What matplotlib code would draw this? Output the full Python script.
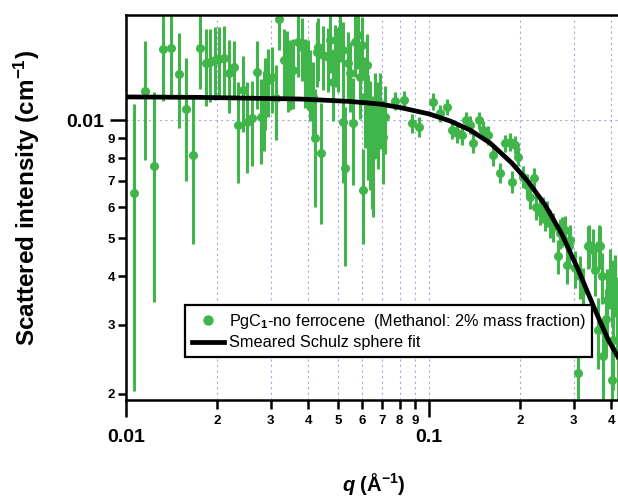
import math
import matplotlib
matplotlib.use("Agg")
import matplotlib.pyplot as plt
from matplotlib.lines import Line2D
from matplotlib.ticker import LogLocator, FuncFormatter

plt.rcParams['font.family'] = ['Liberation Sans', 'DejaVu Sans']
plt.rcParams['font.weight'] = 'bold'
plt.rcParams['mathtext.fontset'] = 'custom'
plt.rcParams['mathtext.rm'] = 'Liberation Sans'
plt.rcParams['mathtext.bf'] = 'Liberation Sans:bold'
plt.rcParams['mathtext.it'] = 'Liberation Sans:italic'
plt.rcParams['mathtext.bfit'] = 'Liberation Sans:italic:bold'

# measured data: q (1/A), intensity (1/cm), error (1/cm)
q = [0.01065, 0.01152, 0.01234, 0.01322, 0.01408, 0.01496, 0.0158, 0.0167, 0.0175, 0.0183,
     0.0189, 0.0197, 0.0203, 0.0211, 0.0218, 0.0228, 0.0235, 0.0244, 0.0250, 0.0260,
     0.0270, 0.0280, 0.0286, 0.0288, 0.0295, 0.0303, 0.0313, 0.0321, 0.0331, 0.0339,
     0.0343, 0.0348, 0.0357, 0.0369, 0.0380, 0.0390, 0.0400, 0.0405, 0.0415, 0.0421,
     0.0426, 0.0431, 0.0440, 0.0448, 0.0465, 0.0471, 0.0483, 0.0490, 0.0502, 0.0509,
     0.0521, 0.0521, 0.0528, 0.0542, 0.0549, 0.0563, 0.0570, 0.0584, 0.0592, 0.0600,
     0.0607, 0.0615, 0.0623, 0.0631, 0.0639, 0.0647, 0.0655, 0.0663, 0.0680, 0.0689,
     0.0707, 0.0716, 0.0772, 0.0827, 0.0877, 0.0929, 0.1033, 0.1087, 0.1144, 0.1194,
     0.1235, 0.1282, 0.1322, 0.1365, 0.1400, 0.1462, 0.1511, 0.1570, 0.1623, 0.1715,
     0.1782, 0.1851, 0.1875, 0.1922, 0.1971, 0.2038, 0.2101, 0.2154, 0.2223, 0.2262,
     0.2325, 0.2384, 0.2415, 0.2446, 0.2508, 0.2572, 0.2671, 0.2706, 0.2741, 0.2810,
     0.2848, 0.2897, 0.2919, 0.3033, 0.3110, 0.3150, 0.3230, 0.3355, 0.3381, 0.3484,
     0.3531, 0.3612, 0.3639, 0.3668, 0.3715, 0.3753, 0.3824, 0.3859, 0.3957, 0.4009,
     0.4030, 0.4045, 0.4111, 0.4164, 0.4190]
intensity = [0.00653, 0.01190, 0.00764, 0.01521, 0.01530, 0.01313, 0.01071, 0.00814, 0.01530, 0.01398,
             0.01411, 0.01426, 0.01431, 0.01440, 0.01323, 0.01370, 0.00973, 0.01195, 0.00992, 0.01012,
             0.01331, 0.01021, 0.01083, 0.01195, 0.01268, 0.01292, 0.01138, 0.01810, 0.01426, 0.01411,
             0.01318, 0.01331, 0.01340, 0.01587, 0.01541, 0.01344, 0.01331, 0.01255, 0.01149, 0.00900,
             0.01497, 0.01541, 0.00824, 0.01468, 0.01454, 0.01603, 0.01255, 0.01483, 0.01454, 0.01690,
             0.01512, 0.00992, 0.00754, 0.01398, 0.01318, 0.00983, 0.01587, 0.01650, 0.01290, 0.01557,
             0.00664, 0.01149, 0.01384, 0.01002, 0.00963, 0.00874, 0.00815, 0.01062, 0.01002, 0.01083,
             0.00908, 0.01021, 0.01120, 0.01127, 0.00983, 0.00963, 0.01116, 0.01042, 0.01083, 0.00945,
             0.00926, 0.00917, 0.01002, 0.00973, 0.00874, 0.01002, 0.00945, 0.00917, 0.00815, 0.00735,
             0.00874, 0.00882, 0.00697, 0.00865, 0.00807, 0.00718, 0.00684, 0.00638, 0.00711, 0.00602,
             0.00584, 0.00590, 0.00567, 0.00578, 0.00546, 0.00535, 0.00449, 0.00515, 0.00520, 0.00525,
             0.00427, 0.00476, 0.00495, 0.00419, 0.00226, 0.00399, 0.00369, 0.00476, 0.00480, 0.00467,
             0.00415, 0.00291, 0.00480, 0.00476, 0.00399, 0.00250, 0.00310, 0.00348, 0.00399, 0.00369,
             0.00217, 0.00275, 0.00384, 0.00328, 0.00259]
err = [0.0045, 0.0040, 0.0042, 0.0040, 0.0037, 0.0036, 0.0037, 0.0033, 0.0033, 0.0031,
       0.0030, 0.0030, 0.0030, 0.0030, 0.0028, 0.0022, 0.0028, 0.0026, 0.0026, 0.0025,
       0.0026, 0.0025, 0.0025, 0.0025, 0.0025, 0.0025, 0.0025, 0.0030, 0.0028, 0.0028,
       0.0027, 0.0027, 0.0027, 0.0030, 0.0028, 0.0027, 0.0027, 0.0026, 0.0026, 0.0030,
       0.0028, 0.0028, 0.0028, 0.0027, 0.0027, 0.0028, 0.0026, 0.0027, 0.0027, 0.0028,
       0.0027, 0.0030, 0.0033, 0.0028, 0.0027, 0.0030, 0.0030, 0.0030, 0.0028, 0.0028,
       0.0018, 0.0030, 0.0028, 0.0030, 0.0030, 0.0028, 0.0025, 0.0026, 0.0025, 0.0024,
       0.0022, 0.0020, 0.0006, 0.0006, 0.00055, 0.00055, 0.00055, 0.0005, 0.0005, 0.0005,
       0.0005, 0.0005, 0.0005, 0.0005, 0.0005, 0.0005, 0.0005, 0.0005, 0.0005, 0.00045,
       0.00045, 0.00045, 0.00045, 0.00045, 0.00045, 0.00045, 0.00045, 0.00045, 0.00045, 0.00045,
       0.00045, 0.00045, 0.00045, 0.00045, 0.00045, 0.00045, 0.00045, 0.00045, 0.00045, 0.00045,
       0.00045, 0.00045, 0.00045, 0.00045, 0.00032, 0.0005, 0.0005, 0.0006, 0.0006, 0.0006,
       0.0006, 0.0006, 0.0006, 0.0006, 0.0006, 0.0006, 0.0006, 0.0007, 0.0007, 0.0007,
       0.0005, 0.0007, 0.0007, 0.0007, 0.0007]

# smeared Schulz sphere fit
fit_q = [0.0100, 0.01755, 0.0375, 0.0549, 0.0689, 0.0802, 0.1000, 0.1173, 0.1365, 0.1590,
         0.1875, 0.2127, 0.2415, 0.2741, 0.3110, 0.3531, 0.3905, 0.4199, 0.4436]
fit_i = [0.01147, 0.01144, 0.01133, 0.01117, 0.01100, 0.01078, 0.01038, 0.00996, 0.009445, 0.00875,
         0.00778, 0.00696, 0.00608, 0.005126, 0.004147, 0.003279, 0.002748, 0.002490, 0.002277]

green = '#3fb54a'
grid_c = '#a8a8dc'


def digit(v, pos):
    # minor log tick label: leading digit only
    return str(int(round(v / 10 ** math.floor(math.log10(v)))))


fig = plt.figure(figsize=(6.18, 4.97), dpi=100)
ax = fig.add_axes([126 / 618, 1 - 400 / 497, 514 / 618, 385 / 497])

ax.errorbar(q, intensity, yerr=err, fmt='o', color=green, ms=6.5, mew=0,
            elinewidth=2.2, capsize=0, zorder=2)
ax.plot(fit_q, fit_i, color='black', lw=3.4, zorder=3, solid_capstyle='butt')

ax.set_xscale('log')
ax.set_yscale('log')
ax.set_xlim(0.01, 0.497)
ax.set_ylim(0.00193, 0.01857)

ax.xaxis.set_major_locator(LogLocator(base=10))
ax.xaxis.set_minor_locator(LogLocator(base=10, subs=range(2, 10)))
ax.yaxis.set_major_locator(LogLocator(base=10))
ax.yaxis.set_minor_locator(LogLocator(base=10, subs=range(2, 10)))

major_fmt = FuncFormatter(lambda v, p: '{:g}'.format(v))
ax.xaxis.set_major_formatter(major_fmt)
ax.xaxis.set_minor_formatter(FuncFormatter(digit))
ax.yaxis.set_major_formatter(major_fmt)
ax.yaxis.set_minor_formatter(FuncFormatter(digit))

ax.tick_params(axis='x', which='major', direction='out', length=12, width=1.8, labelsize=14, pad=9)
ax.tick_params(axis='x', which='minor', direction='out', length=6.5, width=1.8, labelsize=9.5, pad=4)
ax.tick_params(axis='y', which='major', direction='out', length=11.5, width=1.8, labelsize=14, pad=4)
ax.tick_params(axis='y', which='minor', direction='out', length=6, width=1.8, labelsize=9.5, pad=2)

ax.xaxis.grid(True, which='both', color=grid_c, ls=(0, (2, 3)), lw=0.8)
ax.yaxis.grid(True, which='major', color=grid_c, ls=(0, (2, 3)), lw=0.8)
ax.set_axisbelow(True)

for s in ['left', 'bottom', 'top']:
    ax.spines[s].set_linewidth(1.8)
ax.spines['right'].set_visible(False)

handles = [Line2D([], [], marker='o', color=green, ls='none', ms=7.5, mew=0),
           Line2D([], [], color='black', lw=3.4)]
labels = [r'PgC$_1$-no ferrocene  (Methanol: 2% mass fraction)', 'Smeared Schulz sphere fit']
leg = ax.legend(handles, labels, loc='lower left',
                bbox_to_anchor=(185 / 618, 1 - 357 / 497), bbox_transform=fig.transFigure,
                borderaxespad=0, fancybox=False, framealpha=1, edgecolor='black',
                prop={'weight': 'normal', 'size': 11.7}, handlelength=2.0, handletextpad=0.3,
                labelspacing=0.3, borderpad=0.4)
leg.get_frame().set_linewidth(1.6)
leg.set_zorder(5)

fig.text(27 / 618, 1 - 198 / 497, r'Scattered intensity (cm$^{\mathbf{-1}}$)',
         rotation=90, ha='center', va='center', fontsize=17.5)
fig.text(374 / 618, 1 - 484 / 497, r'$\mathbfit{q}$ (Å$^{\mathbf{-1}}$)',
         ha='center', va='center', fontsize=14.5)

fig.savefig('out.png', dpi=100)
